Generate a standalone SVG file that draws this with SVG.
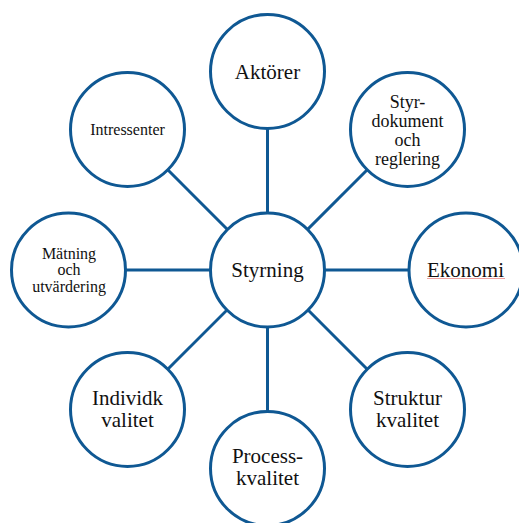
<svg xmlns="http://www.w3.org/2000/svg" width="519" height="523" viewBox="0 0 519 523">
<style>
.n{fill:#fff;stroke:#0f5893;stroke-width:3}
.c line{stroke:#0f5893;stroke-width:3}
.t text{fill:#111;text-anchor:middle}
.l{font-size:21px}.m{font-size:18px}.s{font-size:16px}
</style>
<rect width="519" height="523" fill="#fff"/>
<g id="connectors" class="c">
<line x1="267.5" y1="71.5" x2="267.5" y2="270"/>
<line x1="267.5" y1="270" x2="267.5" y2="468.5"/>
<line x1="68.5" y1="270" x2="466" y2="270"/>
<line x1="127.5" y1="129.5" x2="407.5" y2="409.5"/>
<line x1="407.5" y1="129.5" x2="127.5" y2="409.5"/>
</g>
<g class="t" font-family="Liberation Serif, DejaVu Serif, serif">
<g id="styrning"><circle class="n" cx="267.5" cy="270" r="57"/><text class="l" x="267.5" y="277">Styrning</text></g>
<g id="aktorer"><circle class="n" cx="267.5" cy="71.5" r="57"/><text class="l" x="267.5" y="79">Aktörer</text></g>
<g id="intressenter"><circle class="n" cx="127.5" cy="129.5" r="57"/><text class="s" x="127.5" y="135">Intressenter</text></g>
<g id="styrdokument"><circle class="n" cx="407.5" cy="129.5" r="57"/><text class="m" x="407.5" y="108">Styr-</text><text class="m" x="407.5" y="127">dokument</text><text class="m" x="407.5" y="146">och</text><text class="m" x="407.5" y="165">reglering</text></g>
<g id="matning"><circle class="n" cx="68.5" cy="270" r="57"/><text class="s" x="69" y="259">Mätning</text><text class="s" x="69" y="275">och</text><text class="s" x="69" y="291.5">utvärdering</text></g>
<g id="ekonomi"><circle class="n" cx="466" cy="270" r="57"/><text class="l" x="465.5" y="277">Ekonomi</text><line x1="427" y1="278.5" x2="505" y2="278.5" stroke="#e88" stroke-width="0.8"/></g>
<g id="individ"><circle class="n" cx="127.5" cy="409.5" r="57"/><text class="l" x="127.5" y="405">Individk</text><text class="l" x="127.5" y="427">valitet</text></g>
<g id="struktur"><circle class="n" cx="407.5" cy="409.5" r="57"/><text class="l" x="407.5" y="405">Struktur</text><text class="l" x="407.5" y="427">kvalitet</text></g>
<g id="process"><circle class="n" cx="267.5" cy="468.5" r="57"/><text class="l" x="267.5" y="463">Process-</text><text class="l" x="267.5" y="485">kvalitet</text></g>
</g>
</svg>
